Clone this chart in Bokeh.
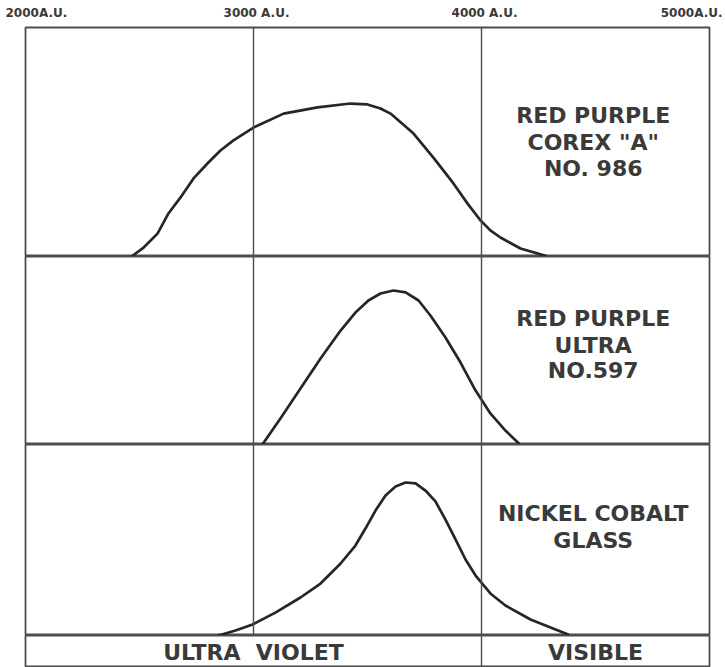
from bokeh.plotting import figure
from bokeh.layouts import column
from bokeh.models import Range1d, Span
from bokeh.core.properties import value
from bokeh.embed import file_html
from bokeh.resources import INLINE

# ---- data (wavelength in Angstrom units, relative transmission in % of panel height) ----
tick_values = [2000, 3000, 4000, 5000]
tick_labels = ["2000A.U.", "3000 A.U.", "4000 A.U.", "5000A.U."]
divisions = [3000, 4000]

corex_wl = [2465, 2518, 2579, 2627, 2680, 2737, 2798, 2855, 2912, 3000,
            3132, 3281, 3425, 3500, 3557, 3601, 3702, 3789, 3877, 3939,
            3996, 4039, 4083, 4171, 4281]
corex_t = [0, 3.9, 10, 18.8, 25.8, 34.1, 40.6, 46.3, 50.7, 56.3,
           62.4, 65.1, 66.8, 66.4, 64.6, 62.4, 53.7, 43.2, 31.9, 23.1,
           15.7, 11.4, 8.3, 3.5, 0.3]
corex_label = ["RED PURPLE", 'COREX "A"', "NO. 986"]

ultra_wl = [3039, 3118, 3206, 3294, 3382, 3447, 3504, 3557, 3614, 3667,
            3724, 3776, 3842, 3908, 3974, 4039, 4105, 4162]
ultra_t = [0, 13.8, 29.8, 45.7, 60.6, 70.2, 76.6, 80.3, 81.9, 80.9,
           76.6, 68.6, 56.9, 43.6, 28.7, 16.5, 7.4, 0.8]
ultra_label = ["RED PURPLE", "ULTRA", "NO.597"]

nico_wl = [2846, 2921, 2996, 3096, 3206, 3294, 3382, 3447, 3491, 3535,
           3579, 3623, 3667, 3711, 3754, 3798, 3842, 3886, 3930, 3974,
           4039, 4105, 4215, 4325, 4380]
nico_t = [0, 2.6, 5.8, 12.0, 19.9, 27.2, 37.7, 47.1, 56.0, 65.4,
          73.3, 78.0, 80.1, 79.6, 75.9, 70.2, 60.7, 50.3, 39.8, 31.4,
          22.0, 15.7, 8.4, 3.1, 0.5]
nico_label = ["NICKEL COBALT", "GLASS"]

band_names = ["ULTRA\u00a0\u00a0VIOLET", "VISIBLE"]
band_edges = [2000, 4000, 5000]

# ---- styling / layout ----
FONT = "DejaVu Sans"
INK = "#3a3a3a"
FRAME = "#4d4d4d"
CURVE = "#262626"
W = 725
LEFT, RIGHT = 25, 16

xr = Range1d(2000, 5000)


def panel(height, top=0):
    p = figure(width=W, height=height, x_range=xr, y_range=Range1d(0, 100),
               output_backend="svg", toolbar_location=None,
               x_axis_location=None, y_axis_location=None,
               min_border_left=LEFT, min_border_right=RIGHT,
               min_border_top=top, min_border_bottom=0,
               outline_line_color=FRAME, outline_line_width=1.8,
               background_fill_color="white", border_fill_color="white")
    p.grid.grid_line_color = None
    return p


def add_divs(p, divs):
    for d in divs:
        p.add_layout(Span(location=d, dimension="height", line_color=FRAME, line_width=1.4))


def add_curve(p, wl, t):
    p.line(wl, t, line_color=CURVE, line_width=2.7, line_join="round", line_cap="round")


def add_name(p, lines, ys):
    p.text(x=[4490] * len(lines), y=ys, text=lines,
           text_font=value(FONT), text_font_style="bold", text_font_size="22px",
           text_align="center", text_baseline="middle", text_color=INK)


# header strip carrying the wavelength labels (same scale as the panels, full-width frame)
span = xr.end - xr.start
per_px = span / (W - LEFT - RIGHT)
f0 = figure(width=W, height=25, output_backend="svg", toolbar_location=None,
            x_range=Range1d(xr.start - LEFT * per_px, xr.end + RIGHT * per_px),
            y_range=Range1d(0, 1), x_axis_location=None, y_axis_location=None,
            min_border_left=0, min_border_right=0, min_border_top=0, min_border_bottom=0,
            outline_line_color=None, frame_align=False,
            background_fill_color="white", border_fill_color="white")
f0.grid.grid_line_color = None
aligns = ["left"] + ["center"] * (len(tick_values) - 2) + ["right"]
shift_px = [-20] + [3] * (len(tick_values) - 2) + [13]
for tv, tl, al, sp in zip(tick_values, tick_labels, aligns, shift_px):
    f0.text(x=[tv + sp * per_px], y=[0.5], text=[tl], text_align=al,
            text_baseline="middle", text_font=value(FONT), text_font_style="bold",
            text_font_size="12px", text_color=INK)

f1 = panel(231, top=2)
add_divs(f1, divisions)
add_curve(f1, corex_wl, corex_t)
add_name(f1, corex_label, [61.6, 49.8, 38.4])

f2 = panel(188)
add_divs(f2, divisions)
add_curve(f2, ultra_wl, ultra_t)
add_name(f2, ultra_label, [67, 52.7, 39.4])

f3 = panel(191)
add_divs(f3, divisions)
add_curve(f3, nico_wl, nico_t)
add_name(f3, nico_label, [63.9, 49.7])

f4 = panel(32)
add_divs(f4, band_edges[1:-1])
centers = [(a + b) / 2 for a, b in zip(band_edges[:-1], band_edges[1:])]
f4.text(x=centers, y=[47, 47], text=band_names,
        text_font=value(FONT), text_font_style="bold", text_font_size="22px",
        text_align="center", text_baseline="middle", text_color=INK)

layout = column(f0, f1, f2, f3, f4, spacing=0)
open("out.html", "w").write(file_html(layout, INLINE))
